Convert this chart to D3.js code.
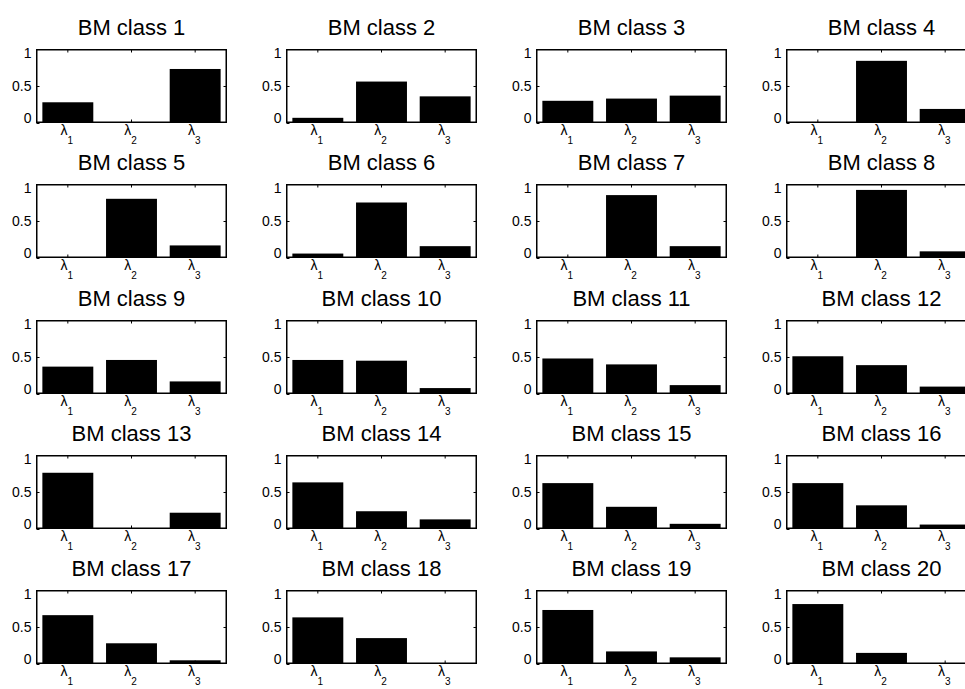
<!DOCTYPE html>
<html>
<head>
<meta charset="utf-8">
<script src="https://cdn.jsdelivr.net/npm/d3@7"></script>
<style>
  html, body { margin: 0; padding: 0; background: #fff; }
  svg { display: block; font-family: "Liberation Sans", Arial, sans-serif; }
</style>
</head>
<body>
<svg id="chart" width="965" height="689"></svg>
<script>
// ---- data ----
const panelTitles = d3.range(1, 21).map(i => "BM class " + i);
const categories = ["1", "2", "3"];          // subscripts of λ
const yTicks = [0, 0.5, 1];
const yTickLabels = ["0", "0.5", "1"];
const lambda1 = [0.28, 0.07, 0.30, 0.00, 0.00, 0.06, 0.00, 0.00, 0.37, 0.46,
                 0.48, 0.51, 0.76, 0.63, 0.62, 0.62, 0.66, 0.63, 0.73, 0.81];
const lambda2 = [0.00, 0.56, 0.33, 0.84, 0.80, 0.75, 0.85, 0.92, 0.46, 0.45,
                 0.40, 0.39, 0.00, 0.24, 0.30, 0.32, 0.28, 0.35, 0.17, 0.15];
const lambda3 = [0.73, 0.36, 0.37, 0.19, 0.17, 0.16, 0.16, 0.09, 0.17, 0.08,
                 0.12, 0.10, 0.22, 0.13, 0.07, 0.06, 0.05, 0.01, 0.09, 0.01];

// ---- layout ----
const nCols = 4;
const colX0 = 36, colStep = 250, axW = 191;
const rowY0 = 49, rowStep = 135.25, axH = 74;

const svg = d3.select("#chart");
svg.append("rect").attr("width", 965).attr("height", 689).attr("fill", "#fff");

const x = d3.scaleBand().domain(categories).range([0, axW]).paddingInner(0.2).paddingOuter(0.1);
const y = d3.scaleLinear().domain([0, 1]).range([axH, 0]);

panelTitles.forEach((title, k) => {
  const col = k % nCols, row = Math.floor(k / nCols);
  const left = Math.round(colX0 + col * colStep);
  const top = Math.round(rowY0 + row * rowStep);
  const g = svg.append("g").attr("transform", `translate(${left},${top})`);
  const vals = [lambda1[k], lambda2[k], lambda3[k]];

  // bars
  g.selectAll("rect.bar").data(categories).enter().append("rect")
    .attr("class", "bar")
    .attr("x", d => x(d))
    .attr("width", x.bandwidth())
    .attr("y", (d, i) => y(vals[i]))
    .attr("height", (d, i) => axH - y(vals[i]))
    .attr("fill", "#000");

  // box
  g.append("path")
    .attr("d", `M0.75,0.75H${axW - 0.75}V${axH - 0.75}H0.75Z`)
    .attr("fill", "none").attr("stroke", "#000").attr("stroke-width", 1.5);

  // left axis with inward ticks
  const ya = g.append("g").attr("transform", "translate(0.5,0)")
    .call(d3.axisLeft(y).tickValues(yTicks).tickFormat((d, i) => yTickLabels[i]).tickSizeInner(-3).tickSizeOuter(0).tickPadding(5));
  ya.select(".domain").remove();
  ya.selectAll("text").attr("font-size", 14).attr("fill", "#000").attr("font-family", "Liberation Sans, Arial, sans-serif")
    .attr("dy", (d) => d === 0 ? "-0.05em" : d === 1 ? "0.62em" : "0.32em");
  ya.selectAll("line").attr("stroke", "#000");

  // right axis ticks
  const yr = g.append("g").attr("transform", `translate(${axW - 0.5},0)`)
    .call(d3.axisRight(y).tickValues([0.5]).tickFormat("").tickSizeInner(-3).tickSizeOuter(0));
  yr.select(".domain").remove();
  yr.selectAll("line").attr("stroke", "#000");

  // top axis ticks
  const xt = g.append("g").attr("transform", "translate(0,0.5)")
    .call(d3.axisTop(x).tickFormat("").tickSizeInner(-3).tickSizeOuter(0));
  xt.select(".domain").remove();
  xt.selectAll("line").attr("stroke", "#000");

  // bottom axis ticks + λ labels
  const xb = g.append("g").attr("transform", `translate(0,${axH - 0.5})`)
    .call(d3.axisBottom(x).tickFormat("").tickSizeInner(-3).tickSizeOuter(0));
  xb.select(".domain").remove();
  xb.selectAll("line").attr("stroke", "#000");
  const lab = g.selectAll("text.xl").data(categories).enter().append("text")
    .attr("class", "xl")
    .attr("x", d => x(d) + x.bandwidth() / 2 - 1)
    .attr("y", axH + 12)
    .attr("text-anchor", "middle")
    .attr("fill", "#000");
  lab.append("tspan").attr("font-size", 14).text("λ");
  lab.append("tspan").attr("font-size", 10).attr("dy", 9).text(d => d);

  // title
  g.append("text").attr("x", axW / 2).attr("y", -14)
    .attr("text-anchor", "middle").attr("font-size", 22).attr("fill", "#000")
    .text(title);
});
</script>
</body>
</html>
